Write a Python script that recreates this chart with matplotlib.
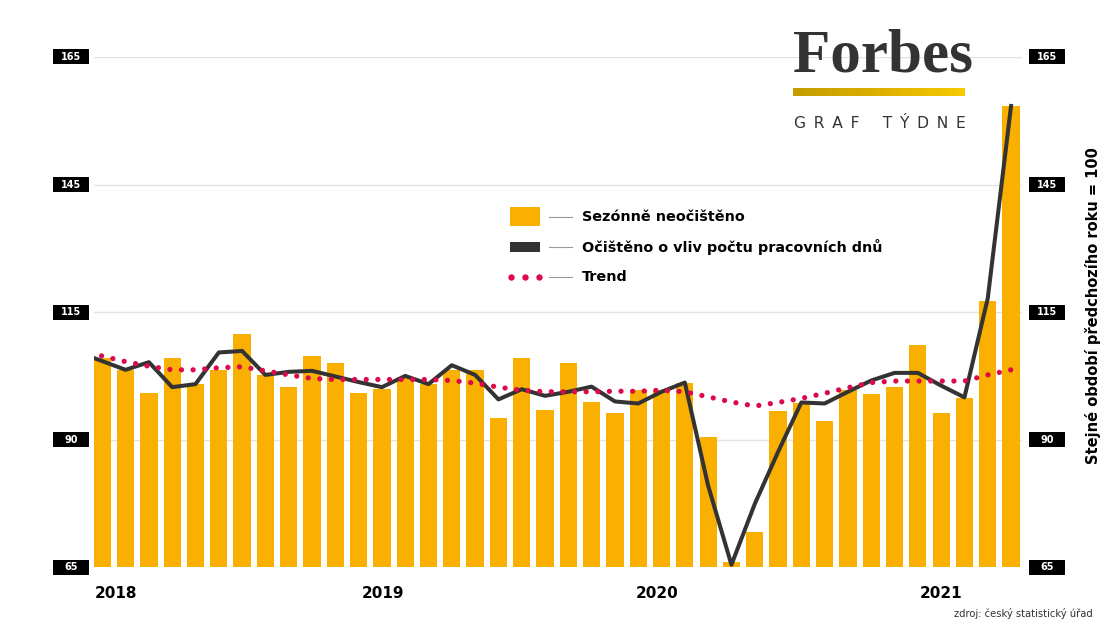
import numpy as np
import pandas as pd
import matplotlib
matplotlib.use("Agg")
import matplotlib.pyplot as plt
from matplotlib.patches import Rectangle
from matplotlib.lines import Line2D
from matplotlib import transforms
from matplotlib.colors import LinearSegmentedColormap

# ---------------- data ----------------
# months of the bars: 2018-01 .. 2021-04
bar_months = pd.date_range("2018-01-01", periods=40, freq="MS")
# line series start one month earlier (2017-12), the first point is clipped by the axes
line_months = pd.date_range("2017-12-01", periods=41, freq="MS")

sezonne_neocisteno = [
    106.0, 103.7, 99.2, 106.0, 100.9, 103.7, 110.7, 102.7, 100.3, 106.4, 105.1, 99.2,
    100.0, 102.2, 100.9, 103.7, 103.7, 94.3, 106.0, 95.8, 105.1, 97.3, 95.2, 99.7,
    99.7, 101.1, 90.6, 66.1, 72.0, 95.7, 97.1, 93.7, 99.7, 99.0, 100.3, 108.6, 95.2, 98.2, 117.2, 155.4,
]
ocisteno_prac_dny = [
    107.1,
    105.4, 103.7, 105.2, 100.3, 100.9, 107.1, 107.4, 102.7, 103.3, 103.5, 102.4, 101.3,
    100.3, 102.5, 100.9, 104.6, 102.7, 97.9, 99.9, 98.6, 99.4, 100.4, 97.5, 97.1,
    99.4, 101.2, 81.0, 65.5, 77.4, 87.6, 97.3, 97.1, 99.4, 101.6, 103.1, 103.1, 100.6, 98.3, 117.7, 155.4,
]
trend = [
    107.5,
    106.4, 105.3, 104.4, 103.7, 103.7, 104.1, 104.3, 103.5, 102.7, 102.0, 101.8, 101.8,
    101.8, 101.8, 101.8, 101.6, 101.1, 100.3, 99.7, 99.4, 99.4, 99.4, 99.5, 99.5,
    99.7, 99.4, 98.4, 97.4, 96.6, 97.3, 98.1, 99.1, 100.2, 101.2, 101.5, 101.5, 101.5, 101.5, 102.7, 103.7,
]
ytick_values = [65, 90, 115, 140, 165]
ytick_labels = ["65", "90", "115", "145", "165"]
year_labels = ["2018", "2019", "2020", "2021"]
year_positions = [0.6, 12.05, 23.8, 36.0]
legend_labels = ["Sezónně neočištěno", "Očištěno o vliv počtu pracovních dnů", "Trend"]

# ---------------- style ----------------
ORANGE = "#F9B000"
DARK = "#333333"
RED = "#DC0A4B"
GRID = "#e3e3e3"

W, H = 1110, 624
def fx(px):
    return px / W
def fy(py):
    return 1 - py / H

fig = plt.figure(figsize=(11.1, 6.24), dpi=100)
fig.patch.set_facecolor("white")

ax_left, ax_right, ax_top, ax_bot = 94, 1022, 57, 567.3
ax = fig.add_axes([fx(ax_left), fy(ax_bot), fx(ax_right - ax_left), (ax_bot - ax_top) / H])
ax.set_facecolor("none")

x_bars = np.arange(len(sezonne_neocisteno))
x_line = np.arange(-1, len(ocisteno_prac_dny) - 1)

ax.bar(x_bars, sezonne_neocisteno, width=0.74, color=ORANGE, zorder=2, bottom=0)
ax.plot(x_line, ocisteno_prac_dny, color=DARK, lw=2.9, zorder=4, solid_joinstyle="round")
ax.plot(x_line, trend, color=RED, lw=3.8, linestyle=(0, (0.001, 2.2)),
        dash_capstyle="round", zorder=5)

ax.set_xlim(-0.356, 39.47)
ax.set_ylim(65, 165)
ax.set_yticks(ytick_values)
ax.set_yticklabels([])
ax.set_xticks([])
ax.tick_params(left=False, bottom=False)
ax.grid(axis="y", color=GRID, lw=1.0, zorder=0)
ax.set_axisbelow(True)
for s in ax.spines.values():
    s.set_visible(False)

# tick label boxes (left and right)
blend = transforms.blended_transform_factory(fig.transFigure, ax.transData)
box_h = 15 / ((ax_bot - ax_top) / 100.0)
for v, lab in zip(ytick_values, ytick_labels):
    for x0 in (53.3, 1029.3):
        fig.add_artist(Rectangle((fx(x0), v - box_h / 2), fx(36), box_h,
                                 transform=blend, facecolor="black", edgecolor="none",
                                 clip_on=False, zorder=6))
        fig.text(fx(x0 + 18), v, lab, transform=blend, color="white", fontsize=7,
                 fontweight="bold", ha="center", va="center", zorder=7)

# year labels
yblend = transforms.blended_transform_factory(ax.transData, fig.transFigure)
for pos, lab in zip(year_positions, year_labels):
    ax.text(pos, fy(593), lab, transform=yblend, ha="center", va="center",
            fontsize=11, fontweight="bold", color="black", clip_on=False)

# right axis title
fig.text(fx(1093), fy(306), "Stejné období předchozího roku = 100", rotation=90,
         ha="center", va="center", fontsize=10.5, fontweight="bold", color="black")

# legend (manual)
fig.add_artist(Rectangle((fx(510), fy(226)), fx(30), 19 / H, transform=fig.transFigure,
                         facecolor=ORANGE, edgecolor="none"))
fig.add_artist(Rectangle((fx(510), fy(252)), fx(30), 10 / H, transform=fig.transFigure,
                         facecolor=DARK, edgecolor="none"))
fig.add_artist(Line2D([fx(511), fx(525), fx(539)], [fy(276.7)] * 3, transform=fig.transFigure,
                      linestyle="none", marker="o", markersize=4.6, color=RED,
                      markeredgewidth=0))
for yy, lab in zip([217, 247.3, 276.7], legend_labels):
    fig.add_artist(Line2D([fx(549), fx(572)], [fy(yy)] * 2, transform=fig.transFigure,
                          color="#9a9a9a", lw=0.8))
    fig.text(fx(582), fy(yy), lab, ha="left", va="center", fontsize=10.4,
             fontweight="bold", color="black")

# Forbes logo
fig.text(fx(793), fy(71.7), "Forbes", ha="left", va="baseline",
         family=["Liberation Serif", "DejaVu Serif"], fontweight="bold",
         fontsize=44, color=DARK)
gax = fig.add_axes([fx(793), fy(96), fx(172), 8.3 / H])
gcmap = LinearSegmentedColormap.from_list("gold", ["#C29C00", "#DDB000", "#F7CA00"])
gax.imshow(np.linspace(0, 1, 256)[None, :], aspect="auto", cmap=gcmap)
gax.axis("off")
fig.text(fx(794), fy(128.3), "G\u2002R\u2002A\u2002F\u2002\u2002\u2002T\u2002Ý\u2002D\u2002N\u2002E",
         ha="left", va="baseline", fontsize=11.2, color=DARK)

# source
fig.text(fx(1093), fy(617), "zdroj: český statistický úřad", ha="right", va="baseline",
         fontsize=7.2, color=DARK)

fig.savefig("out.png", dpi=100, facecolor="white")
